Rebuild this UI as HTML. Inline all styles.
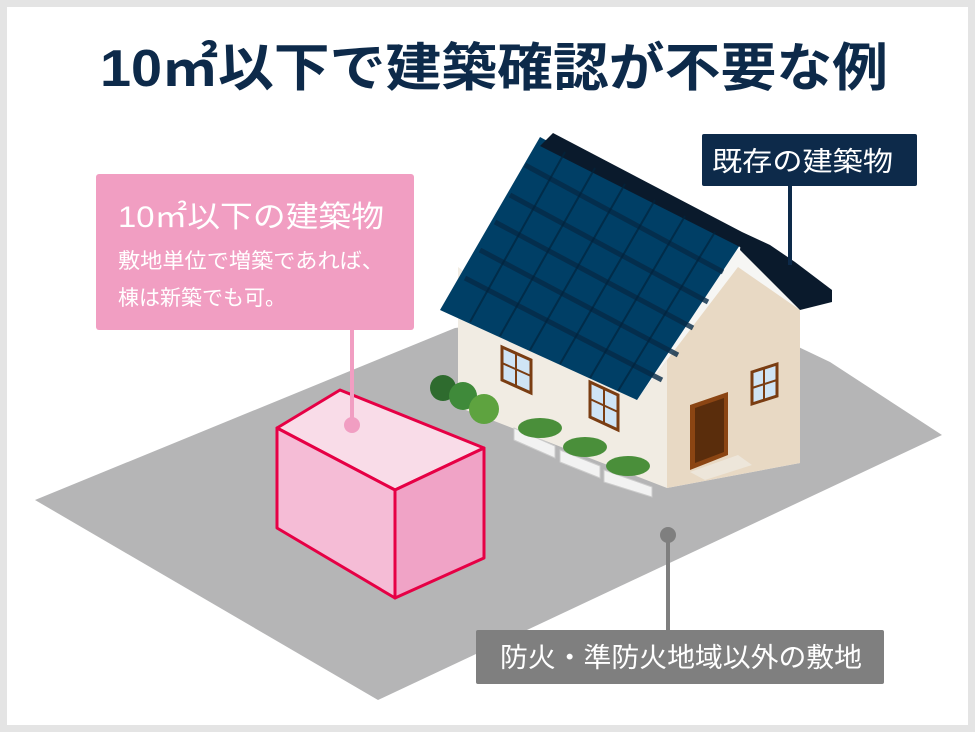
<!DOCTYPE html>
<html><head><meta charset="utf-8"><style>
html,body{margin:0;padding:0;background:#e4e4e4}
svg{display:block}
text{font-family:"Liberation Sans","Noto Sans CJK JP",sans-serif}
</style></head><body>
<svg width="975" height="732" viewBox="0 0 975 732" xmlns="http://www.w3.org/2000/svg">
<rect x="0" y="0" width="975" height="732" fill="#e4e4e4"/>
<rect x="7" y="7" width="961" height="718" fill="#fff"/>
<text x="100" y="86" font-size="52" font-weight="bold" fill="#0d2a4a" textLength="788" lengthAdjust="spacingAndGlyphs">10㎡以下で建築確認が不要な例</text>

<!-- ground -->
<polygon points="35,500 455,328 700,300 830,362 942,435 378,700" fill="#b5b5b6"/>

<!-- house walls -->
<polygon points="458,267 637,400 667,360 667,488 458,407" fill="#f1ece3"/>
<polygon points="637,400 732,247 832,300 800,310 800,463 667,488 667,360" fill="#f6f6f4"/>
<polygon points="738,267 800,310 800,463 667,488 667,360" fill="#e8d9c4"/>
<!-- roof -->
<polygon points="540,137 740,245 637,400 440,310" fill="#003f66"/>
<polygon points="553,133 742,232 742,248 540,146" fill="#0a1a2c"/>
<polygon points="742,232 770,245 795,262 832,290 832,302 800,310 740,250" fill="#0a1a2c"/>
<g stroke="#062a47" stroke-width="5" fill="none" opacity="0.8">
<line x1="525" y1="165" x2="723" y2="272"/>
<line x1="510" y1="195" x2="708" y2="302"/>
<line x1="495" y1="222" x2="693" y2="328"/>
<line x1="480" y1="250" x2="678" y2="355"/>
<line x1="465" y1="278" x2="662" y2="380"/>
</g>
<g stroke="#02243d" stroke-width="2" opacity="0.7">
<line x1="565" y1="152" x2="470" y2="322"/><line x1="595" y1="168" x2="500" y2="336"/>
<line x1="625" y1="184" x2="530" y2="350"/><line x1="655" y1="200" x2="560" y2="364"/>
<line x1="685" y1="216" x2="590" y2="378"/><line x1="715" y1="232" x2="618" y2="391"/>
</g>
<!-- windows -->
<g fill="#cfe4f5" stroke="#7a3d12" stroke-width="3">
<polygon points="502,347 531,360 531,393 502,380"/>
<polygon points="590,382 618,395 618,430 590,417"/>
<polygon points="752,372 777,364 777,396 752,404"/>
</g>
<g stroke="#7a3d12" stroke-width="2">
<line x1="516" y1="353" x2="516" y2="387"/><line x1="502" y1="363" x2="531" y2="376"/>
<line x1="604" y1="388" x2="604" y2="423"/><line x1="590" y1="399" x2="618" y2="412"/>
<line x1="764" y1="368" x2="764" y2="400"/><line x1="752" y1="388" x2="777" y2="380"/>
</g>
<!-- door -->
<polygon points="690,405 728,392 728,455 690,470" fill="#8b4513"/>
<polygon points="695,408 724,398 724,452 695,463" fill="#5a2d0c"/>
<polygon points="690,472 738,455 752,465 705,480" fill="#ede6da"/>
<!-- bushes -->
<circle cx="443" cy="388" r="13" fill="#2e6b2e"/>
<circle cx="463" cy="396" r="14" fill="#3f8a3a"/>
<circle cx="484" cy="409" r="15" fill="#5ea33f"/>
<!-- planters -->
<g fill="#f2f2f2" stroke="#ccc">
<polygon points="514,428 555,446 555,458 514,440"/>
<polygon points="560,450 600,466 600,478 560,462"/>
<polygon points="604,470 652,487 652,497 604,482"/>
</g>
<g fill="#4a8f3a"><ellipse cx="540" cy="428" rx="22" ry="10"/><ellipse cx="585" cy="447" rx="22" ry="10"/><ellipse cx="628" cy="466" rx="22" ry="10"/></g>

<!-- pink box -->
<polygon points="277,428 340,390 484,448 395,490" fill="#f9dce8" stroke="#e60045" stroke-width="3" stroke-linejoin="round"/>
<polygon points="277,428 395,490 395,598 277,528" fill="#f5bcd6" stroke="#e60045" stroke-width="3" stroke-linejoin="round"/>
<polygon points="395,490 484,448 484,558 395,598" fill="#f0a3c6" stroke="#e60045" stroke-width="3" stroke-linejoin="round"/>

<!-- pink label -->
<rect x="96" y="174" width="318" height="156" rx="3" fill="#f19ec2"/>
<line x1="352" y1="330" x2="352" y2="425" stroke="#f19ec2" stroke-width="4"/>
<circle cx="352" cy="425" r="8" fill="#f19ec2"/>
<text x="118" y="227" font-size="30" fill="#fff" textLength="266" lengthAdjust="spacingAndGlyphs">10㎡以下の建築物</text>
<text x="118" y="268" font-size="21" fill="#fff" textLength="266" lengthAdjust="spacingAndGlyphs">敷地単位で増築であれば、</text>
<text x="118" y="305" font-size="21" fill="#fff" textLength="168" lengthAdjust="spacingAndGlyphs">棟は新築でも可。</text>

<!-- navy label -->
<rect x="702" y="134" width="215" height="52" rx="2" fill="#0d2a4a"/>
<line x1="790" y1="186" x2="790" y2="265" stroke="#0d2a4a" stroke-width="4"/>
<text x="712" y="171" font-size="27" fill="#fff" textLength="181" lengthAdjust="spacingAndGlyphs">既存の建築物</text>

<!-- gray label -->
<line x1="668" y1="535" x2="668" y2="630" stroke="#7f7f7f" stroke-width="4"/>
<circle cx="668" cy="535" r="8" fill="#7f7f7f"/>
<rect x="476" y="630" width="408" height="54" rx="2" fill="#7f7f7f"/>
<text x="500" y="667" font-size="27" fill="#fff" textLength="362" lengthAdjust="spacingAndGlyphs">防火・準防火地域以外の敷地</text>
</svg>
</body></html>
